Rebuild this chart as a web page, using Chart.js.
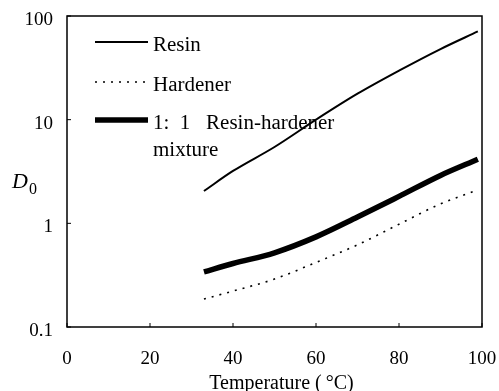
<!DOCTYPE html>
<html>
<head>
<meta charset="utf-8">
<script src="https://cdn.jsdelivr.net/npm/chart.js@4/dist/chart.umd.min.js"></script>
<style>
  html, body { margin: 0; background: #fff; }
</style>
</head>
<body>
<canvas id="chart" width="499" height="391"></canvas>
<script>
// temperatures (°C) and diffusion coefficients D0
const temps = [33, 40, 50, 60, 70, 80, 90, 99];
const resin = [2.05, 3.2, 5.45, 10.0, 17.8, 29.7, 48, 71];
const hardener = [0.186, 0.222, 0.29, 0.42, 0.62, 0.98, 1.54, 2.1];
const mixture = [0.34, 0.41, 0.52, 0.74, 1.15, 1.82, 2.9, 4.15];

const xTicks = [0, 20, 40, 60, 80, 100];
const yTicks = [0.1, 1, 10, 100];
const yTickLabels = ["0.1", "1", "10", "100"];

const SERIF = "'Liberation Serif', 'Times New Roman', serif";

const toPoints = (vals) => temps.map((t, i) => ({ x: t, y: vals[i] }));

// box round the plot, inward tick marks, D0 label and the legend
const framePlugin = {
  id: "frame",
  afterDraw(chart) {
    const { ctx, chartArea: a, scales } = chart;
    ctx.save();
    ctx.strokeStyle = "#000";
    ctx.lineWidth = 1.5;
    ctx.strokeRect(a.left, a.top, a.right - a.left, a.bottom - a.top);

    ctx.lineWidth = 1;
    ctx.beginPath();
    xTicks.forEach((v) => {
      const px = scales.x.getPixelForValue(v);
      ctx.moveTo(px, a.bottom);
      ctx.lineTo(px, a.bottom - 4);
    });
    yTicks.forEach((v) => {
      const py = scales.y.getPixelForValue(v);
      ctx.moveTo(a.left, py);
      ctx.lineTo(a.left + 4, py);
    });
    ctx.stroke();

    // axis name
    ctx.fillStyle = "#000";
    ctx.textBaseline = "alphabetic";
    ctx.font = "italic 22px " + SERIF;
    ctx.fillText("D", 12, 188);
    ctx.font = "16px " + SERIF;
    ctx.fillText("0", 29, 194);

    // legend
    const rows = [42, 82, 120];
    chart.data.datasets.forEach((ds, i) => {
      const y = rows[i];
      ctx.strokeStyle = ds.borderColor;
      ctx.lineWidth = ds.borderWidth;
      ctx.setLineDash(ds.borderDash || []);
      ctx.lineCap = "butt";
      ctx.beginPath();
      ctx.moveTo(95, y);
      ctx.lineTo(148, y);
      ctx.stroke();
      ctx.setLineDash([]);
      ctx.font = "20px " + SERIF;
      ctx.textBaseline = "middle";
      const lines = Array.isArray(ds.label) ? ds.label : [ds.label];
      lines.forEach((t, j) => {
        ctx.save();
        ctx.translate(153, y + 4 + j * 27);
        ctx.scale(1.05, 1);
        ctx.fillText(t, 0, 0);
        ctx.restore();
      });
    });
    ctx.restore();
  }
};

new Chart(document.getElementById("chart"), {
  type: "line",
  data: {
    datasets: [
      {
        label: "Resin",
        data: toPoints(resin),
        borderColor: "#000",
        borderWidth: 2,
        cubicInterpolationMode: "monotone",
        pointRadius: 0
      },
      {
        label: "Hardener",
        data: toPoints(hardener),
        borderColor: "#000",
        borderWidth: 1.6,
        borderDash: [2, 6],
        cubicInterpolationMode: "monotone",
        pointRadius: 0
      },
      {
        label: ["1:  1   Resin-hardener", "mixture"],
        data: toPoints(mixture),
        borderColor: "#000",
        borderWidth: 5.5,
        cubicInterpolationMode: "monotone",
        pointRadius: 0
      }
    ]
  },
  options: {
    responsive: false,
    animation: false,
    devicePixelRatio: 1,
    layout: { padding: { top: 16, right: 17, left: 0, bottom: 0 } },
    plugins: { legend: { display: false }, tooltip: { enabled: false } },
    scales: {
      x: {
        type: "linear",
        min: 0,
        max: 100,
        afterBuildTicks: (s) => { s.ticks = xTicks.map((v) => ({ value: v })); },
        afterFit: (s) => {
          s.height = 64;
          s.paddingLeft = 0;
          s.paddingRight = 0;
        },
        grid: { display: false },
        border: { display: false },
        ticks: { color: "#000", padding: 13, font: { family: SERIF, size: 19 } },
        title: {
          display: true,
          text: "\u2002\u2009Temperature (\u2009°C)",
          color: "#000",
          padding: { top: 0, bottom: -5 },
          font: { family: SERIF, size: 20 }
        }
      },
      y: {
        type: "logarithmic",
        min: 0.1,
        max: 100,
        afterBuildTicks: (s) => { s.ticks = yTicks.map((v) => ({ value: v })); },
        afterFit: (s) => {
          s.width = 67;
          s.paddingTop = 0;
          s.paddingBottom = 0;
        },
        grid: { display: false },
        border: { display: false },
        ticks: {
          color: "#000",
          padding: 6,
          labelOffset: 4,
          font: { family: SERIF, size: 19 },
          callback: (v) => {
            const i = yTicks.findIndex((t) => Math.abs(t - v) < 1e-9);
            return i >= 0 ? yTickLabels[i] : "";
          }
        }
      }
    }
  },
  plugins: [framePlugin]
});
</script>
</body>
</html>
